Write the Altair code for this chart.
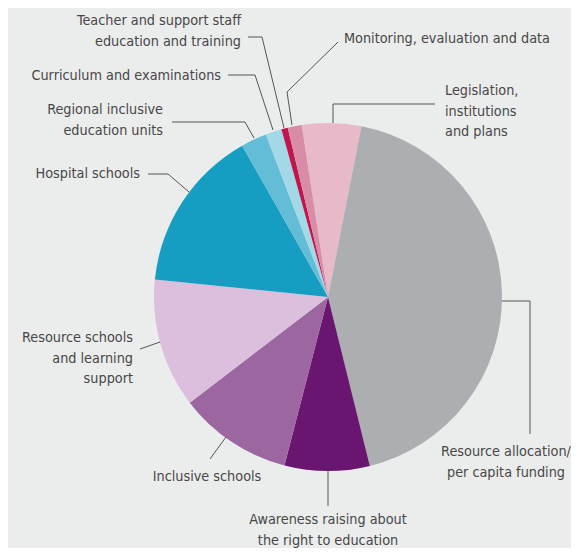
import math
import altair as alt
import pandas as pd

# ---- data ----
categories = [
    "Legislation, institutions and plans",
    "Resource allocation/per capita funding",
    "Awareness raising about the right to education",
    "Inclusive schools",
    "Resource schools and learning support",
    "Hospital schools",
    "Regional inclusive education units",
    "Curriculum and examinations",
    "Teacher and support staff education and training",
    "Monitoring, evaluation and data",
]
shares = [5.5, 43.1, 7.9, 10.6, 12.0, 15.2, 2.4, 1.5, 0.6, 1.3]
colors = ["#e8bac9", "#adaeb1", "#6a1670", "#9c67a0", "#dbbfdc",
          "#169ec2", "#63bdd6", "#a3d8e6", "#c0164e", "#d88ca6"]

label_texts = [
    "Legislation,\ninstitutions\nand plans",
    "Resource allocation/\nper capita funding",
    "Awareness raising about\nthe right to education",
    "Inclusive schools",
    "Resource schools\nand learning\nsupport",
    "Hospital schools",
    "Regional inclusive\neducation units",
    "Curriculum and examinations",
    "Teacher and support staff\neducation and training",
    "Monitoring, evaluation and data",
]

# ---- layout (pixel positions of labels and leader lines) ----
W, H = 563, 540
CX, CY, R = 320, 289, 174
START = math.radians(-8.7)

label_x = [437, 498, 320, 199, 125, 132, 155, 213, 233, 336]
label_y = [83, 444, 512, 469, 330, 166, 102, 68, 13, 31]
label_align = ["left", "center", "center", "center", "right",
               "right", "right", "right", "right", "left"]

leader_x = [[325, 325, 427], [494, 522, 522], [320, 320], [202, 218],
            [132, 152], [140, 160, 181], [164, 237, 246], [220, 247, 265],
            [240, 254, 276], [330, 279, 284]]
leader_y = [[115, 96, 96], [293, 293, 426], [463, 498], [451, 429],
            [341, 334], [166, 166, 184], [114, 114, 130], [67, 67, 122],
            [29, 29, 120], [34, 84, 117]]

FONT = "DejaVu Sans Condensed"
FONT_SIZE = 14.3
TEXT_COLOR = "#474747"
BG = "#ebecec"

pie_df = pd.DataFrame({"cat": categories, "share": shares,
                       "idx": list(range(len(categories)))})

lab_df = pd.DataFrame({"txt": label_texts, "px": label_x, "py": label_y,
                       "align": label_align})

rows = []
for i, (xs_, ys_) in enumerate(zip(leader_x, leader_y)):
    for j, (a, b) in enumerate(zip(xs_, ys_)):
        rows.append({"cat": categories[i], "seq": j, "px": a, "py": b})
line_df = pd.DataFrame(rows)

xs = alt.Scale(domain=[0, W], range=[0, W])
ys = alt.Scale(domain=[0, H], range=[0, H])

pie = alt.Chart(pie_df).mark_arc(radius=R, stroke=None).encode(
    theta=alt.Theta("share:Q", stack=True,
                    scale=alt.Scale(range=[START, START + 2 * math.pi])),
    order=alt.Order("idx:Q"),
    color=alt.Color("cat:N", scale=alt.Scale(domain=categories, range=colors),
                    legend=None),
    x=alt.value(CX),
    y=alt.value(CY),
)

lines = alt.Chart(line_df).mark_line(color="#555555", strokeWidth=1).encode(
    x=alt.X("px:Q", scale=xs, axis=None),
    y=alt.Y("py:Q", scale=ys, axis=None),
    detail="cat:N",
    order="seq:Q",
)

def text_layer(al):
    return alt.Chart(lab_df).transform_filter(
        alt.datum.align == al
    ).mark_text(
        align=al, baseline="middle", lineBreak="\n", lineHeight=20.5,
        font=FONT, fontSize=FONT_SIZE, color=TEXT_COLOR,
    ).encode(
        x=alt.X("px:Q", scale=xs, axis=None),
        y=alt.Y("py:Q", scale=ys, axis=None),
        text="txt:N",
    )

chart = alt.layer(
    pie, lines, text_layer("left"), text_layer("center"), text_layer("right")
).properties(
    width=W, height=H, background=BG, padding=0, autosize="none"
).configure_view(stroke=None)

chart.save("out.html", embed_options={"renderer": "svg", "actions": False})
